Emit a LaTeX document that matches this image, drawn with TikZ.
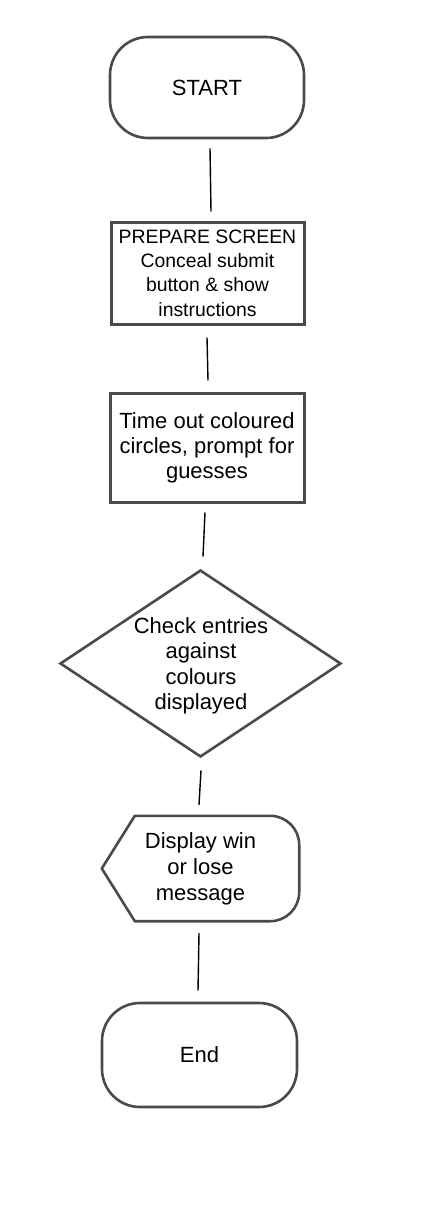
\documentclass[tikz,border=0pt]{standalone}
\usepackage{fontspec}
\setmainfont{Liberation Sans}
\usetikzlibrary{shapes.geometric}
\definecolor{edgegray}{HTML}{4A4A4A}
\begin{document}
\begin{tikzpicture}[x=1pt,y=-1pt,
  shapeline/.style={draw=edgegray, line width=2.6pt},
  term/.style={shapeline, rounded corners=38pt, minimum width=194pt, minimum height=101pt, inner sep=0pt, align=center, font=\fontsize{22}{25.5}\selectfont},
  procbox/.style={shapeline, line width=3pt, minimum width=193pt, inner sep=0pt, align=center},
  lbl/.style={align=center, inner sep=0pt, font=\fontsize{22}{25.5}\selectfont},
  conn/.style={draw=black, line width=1.4pt}]
\useasboundingbox (0,0) rectangle (433,1212);

\node[term] (start) at (207,87.5) {START};

\node[procbox, minimum height=102pt, font=\fontsize{19.4}{24.3}\selectfont] (prep) at (207.5,273)
  {PREPARE SCREEN\\Conceal submit\\button \& show\\instructions};

\node[procbox, minimum width=194pt, minimum height=109pt, font=\fontsize{22}{25}\selectfont] (time) at (207,447.5)
  {Time out coloured\\circles, prompt for\\guesses};

\node[diamond, shapeline, minimum width=281pt, minimum height=187pt, inner sep=0pt] (dia) at (200.5,663.5) {};
\node[lbl] (diatext) at (201,666) {Check entries\\against\\colours\\displayed};

\node[lbl, minimum width=197pt, minimum height=105pt, font=\fontsize{22}{26}\selectfont] (disp) at (200.5,868.5)
  {Display win\\or lose\\message};
\draw[shapeline, line join=round] (disp.west) -- ([xshift=33pt]disp.north west)
  -- ([xshift=-29pt]disp.north east)
  .. controls ([xshift=-13pt]disp.north east) and ([yshift=-13pt]disp.north east) .. ([yshift=-29pt]disp.north east)
  -- ([yshift=29pt]disp.south east)
  .. controls ([yshift=13pt]disp.south east) and ([xshift=-13pt]disp.south east) .. ([xshift=-29pt]disp.south east)
  -- ([xshift=33pt]disp.south west) -- cycle;

\node[term, minimum width=195pt, minimum height=104pt] (end) at (199.5,1055) {End};

\draw[conn] ([xshift=3pt,yshift=-9pt]start.south) -- ([xshift=3.5pt,yshift=9pt]prep.north);
\draw[conn] ([xshift=-0.5pt,yshift=-12pt]prep.south) -- ([xshift=1pt,yshift=11pt]time.north);
\draw[conn] ([xshift=-2pt,yshift=-9pt]time.south) -- ([xshift=2.5pt,yshift=12pt]dia.north);
\draw[conn] ([xshift=0.5pt,yshift=-12pt]dia.south) -- ([xshift=-1.5pt,yshift=11pt]disp.north);
\draw[conn] ([xshift=-1.5pt,yshift=-12pt]disp.south) -- ([xshift=-1.5pt,yshift=11pt]end.north);
\end{tikzpicture}
\end{document}
